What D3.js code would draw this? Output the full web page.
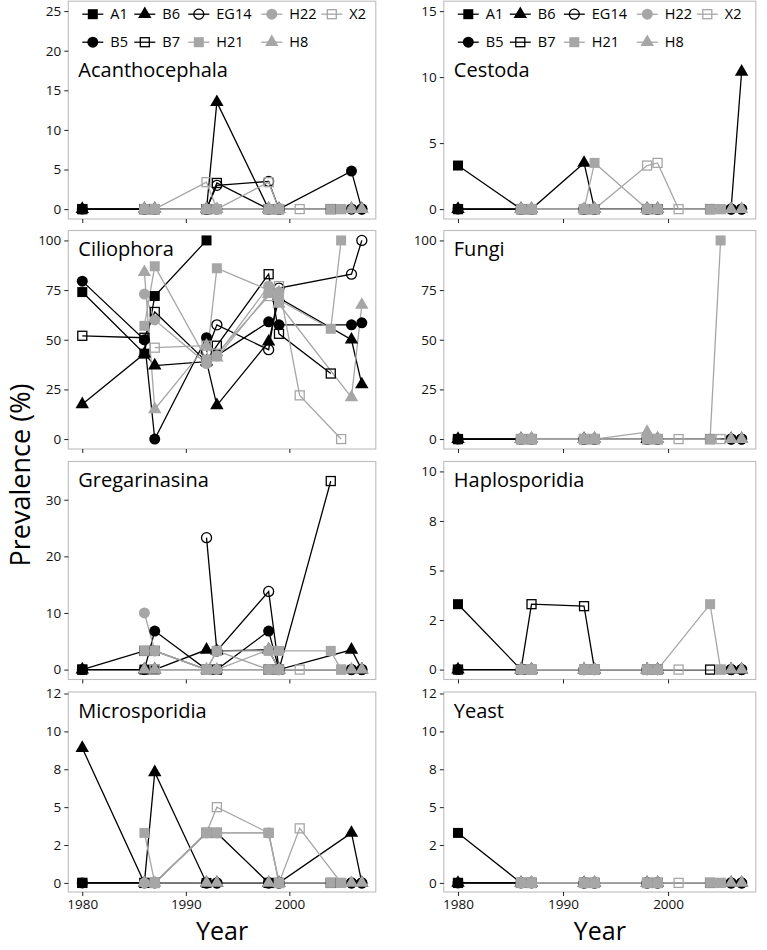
<!DOCTYPE html>
<html><head><meta charset="utf-8">
<script src="https://cdn.jsdelivr.net/npm/d3@7/dist/d3.min.js"></script>
<style>
body{margin:0;background:#fff;}
svg{display:block;font-family:"Open Sans",sans-serif;}
</style>
</head><body>
<svg id="chart" width="767" height="950"></svg>
<script>
// ---------- DATA ----------
const seriesNames = ["A1","B5","B6","B7","EG14","H21","H22","H8","X2"];
const blackSeries = ["A1","B5","B6","B7","EG14"];
const shapeOf = {A1:"sq",B5:"ci",B6:"tr",B7:"osq",EG14:"oci",H21:"sq",H22:"ci",H8:"tr",X2:"osq"};

const yearsA1   = [1980,1986,1987,1992];
const yearsB5   = [1980,1986,1987,1992,1993,1998,1999,2006,2007];
const yearsB6   = [1980,1986,1987,1992,1993,1998,1999,2006,2007];
const yearsB7   = [1980,1986,1987,1992,1993,1998,1999,2004];
const yearsEG14 = [1992,1993,1998,1999,2006,2007];
const yearsH21  = [1986,1987,1992,1993,1998,1999,2004,2005];
const yearsH22  = [1986,1987,1992,1993,1998,1999];
const yearsH8   = [1986,1987,1992,1993,1998,1999,2006,2007];
const yearsX2   = [1987,1992,1993,1998,1999,2001,2005];

const panelNames = ["Acanthocephala","Cestoda","Ciliophora","Fungi","Gregarinasina","Haplosporidia","Microsporidia","Yeast"];
const panelLimits = [25,15,100,100,35,10,12,12];
const panelTicks = [
  [0,5,10,15,20,25],[0,5,10,15],[0,25,50,75,100],[0,25,50,75,100],
  [0,10,20,30],[0,2.5,5,7.5,10],[0,2.5,5,7.5,10,12.5],[0,2.5,5,7.5,10,12.5]
];
const xTicks = [1980,1990,2000];

const acanthocephala = {
  A1:[0,0,0,0], B5:[0,0,0,0,0,0,0,4.8,0], B6:[0,0,0,0,13.5,0,0,0,0],
  B7:[0,0,0,0,3.3,0,0,0], EG14:[0,3.0,3.5,0,0,0], H21:[0,0,0,0,0,0,0,0],
  H22:[0,0,0,0,0,0], H8:[0,0,0,0,0,0,0,0], X2:[0,3.4,0,3.4,0,0,0]
};
const cestoda = {
  A1:[3.3,0,0,0], B5:[0,0,0,0,0,0,0,0,0], B6:[0,0,0,3.5,0,0,0,0,10.4],
  B7:[0,0,0,0,0,0,0,0], EG14:[0,0,0,0,0,0], H21:[0,0,0,3.5,0,0,0,0],
  H22:[0,0,0,0,0,0], H8:[0,0,0,0,0,0,0,0], X2:[0,0,0,3.3,3.5,0,0]
};
const ciliophora = {
  A1:[74,43,72,100], B5:[79.5,50,0,51,42,59,57.5,57.5,58.5],
  B6:[17.5,43,37,39,17,49,71,50,27.5], B7:[52,51,64,39,47,83,53,33],
  EG14:[44,57.5,45,76,83,100], H21:[57,87,40,86,75,70,55.5,100],
  H22:[73,60,38,42,77,74], H8:[84,15,47,41,73,68,21,67.5],
  X2:[46,47,43,72,77,22,0]
};
const fungi = {
  A1:[0,0,0,0], B5:[0,0,0,0,0,0,0,0,0], B6:[0,0,0,0,0,0,0,0,0],
  B7:[0,0,0,0,0,0,0,0], EG14:[0,0,0,0,0,0], H21:[0,0,0,0,0,0,0,100],
  H22:[0,0,0,0,0,0], H8:[0,0,0,0,3.5,0,0,0], X2:[0,0,0,0,0,0,0]
};
const gregarinasina = {
  A1:[0,0,0,0], B5:[0,0,6.8,0,0,6.8,0,0,0], B6:[0,0,0,3.5,3.3,3.5,0,3.5,0],
  B7:[0,3.3,3.3,0,0,0,0,33.3], EG14:[23.3,3.3,13.8,0,0,0],
  H21:[3.3,3.3,0,3.3,3.3,3.3,3.3,0], H22:[10,3.3,0,0,0,0],
  H8:[0,0,0,0,3.5,0,0,0], X2:[0,0,3.3,0,0,0,0]
};
const haplosporidia = {
  A1:[3.3,0,0,0], B5:[0,0,0,0,0,0,0,0,0], B6:[0,0,0,0,0,0,0,0,0],
  B7:[0,0,3.3,3.2,0,0,0,0], EG14:[0,0,0,0,0,0], H21:[0,0,0,0,0,0,3.3,0],
  H22:[0,0,0,0,0,0], H8:[0,0,0,0,0,0,0,0], X2:[0,0,0,0,0,0,0]
};
const microsporidia = {
  A1:[0,0,0,0], B5:[0,0,0,0,0,0,0,0,0], B6:[8.9,0,7.3,0,0,0,0,3.3,0],
  B7:[0,0,0,3.3,3.3,0,0,0], EG14:[0,0,0,0,0,0], H21:[3.3,0,3.3,3.3,3.3,0,0,0],
  H22:[0,0,3.3,3.3,3.3,0], H8:[0,0,0,0,0,0,0,0], X2:[0,3.3,5.0,3.3,0,3.6,0]
};
const yeast = {
  A1:[3.3,0,0,0], B5:[0,0,0,0,0,0,0,0,0], B6:[0,0,0,0,0,0,0,0,0],
  B7:[0,0,0,0,0,0,0,0], EG14:[0,0,0,0,0,0], H21:[0,0,0,0,0,0,0,0],
  H22:[0,0,0,0,0,0], H8:[0,0,0,0,0,0,0,0], X2:[0,0,0,0,0,0,0]
};

// ---------- LAYOUT ----------
const yearsOf = {A1:yearsA1,B5:yearsB5,B6:yearsB6,B7:yearsB7,EG14:yearsEG14,H21:yearsH21,H22:yearsH22,H8:yearsH8,X2:yearsX2};
const panelValues = [acanthocephala,cestoda,ciliophora,fungi,gregarinasina,haplosporidia,microsporidia,yeast];
const colX = [[68.3,375.8],[443.8,755.8]];
const rowY = [[1.2,219],[230.5,449],[461.5,679.5],[692,892]];
const BLACK="#000", GREY="#a6a6a6";
const legendCols = [14,66,120,193,253];

const svg = d3.select("#chart");
const x0 = 1980, x1 = 2007;
const xpad = (x1-x0)*0.05;

function rRound(d){ // R style round half even
  const f = Math.floor(d);
  if (Math.abs(d-f-0.5) < 1e-9) return (f%2===0)?f:f+1;
  return Math.round(d);
}

function drawMarker(g, shape, color, cx, cy){
  if (shape==="sq") g.append("rect").attr("x",cx-5).attr("y",cy-5).attr("width",10).attr("height",10).attr("fill",color);
  else if (shape==="osq") g.append("rect").attr("x",cx-4.5).attr("y",cy-4.5).attr("width",9).attr("height",9).attr("fill","none").attr("stroke",color).attr("stroke-width",1.3);
  else if (shape==="ci") g.append("circle").attr("cx",cx).attr("cy",cy).attr("r",5.5).attr("fill",color);
  else if (shape==="oci") g.append("circle").attr("cx",cx).attr("cy",cy).attr("r",5).attr("fill","none").attr("stroke",color).attr("stroke-width",1.3);
  else if (shape==="tr") g.append("path").attr("transform",`translate(${cx},${cy})`).attr("d",d3.symbol().type(d3.symbolTriangle).size(78)()).attr("fill",color);
}

panelNames.forEach((name,i)=>{
  const col = i%2, row = Math.floor(i/2);
  const [L,R] = colX[col], [T,B] = rowY[row];
  const lim = panelLimits[i];
  const x = d3.scaleLinear().domain([x0-xpad,x1+xpad]).range([L,R]);
  const y = d3.scaleLinear().domain([-0.05*lim,1.05*lim]).range([B,T]);
  const g = svg.append("g");

  g.append("rect").attr("x",L).attr("y",T).attr("width",R-L).attr("height",B-T)
    .attr("fill","#fff").attr("stroke","#bdbdbd").attr("stroke-width",1.1);

  // y axis
  const ya = g.append("g").attr("transform",`translate(${L},0)`)
    .call(d3.axisLeft(y).tickValues(panelTicks[i]).tickFormat(d=>String(rRound(d))).tickSize(4).tickPadding(3));
  ya.select(".domain").remove();
  ya.selectAll("line").attr("stroke","#222");
  ya.selectAll("text").attr("font-size",13.5).attr("fill","#111").attr("font-family","Open Sans");

  // x axis
  const xa = g.append("g").attr("transform",`translate(0,${B})`)
    .call(d3.axisBottom(x).tickValues(xTicks).tickSize(4).tickPadding(3).tickFormat(d=>String(d)));
  xa.select(".domain").remove();
  xa.selectAll("line").attr("stroke","#222");
  xa.selectAll("text").attr("font-size",13.5).attr("fill","#111").attr("font-family","Open Sans");
  if (row<3) xa.selectAll("text").remove();

  const vals = panelValues[i];
  const line = d3.line().x(d=>x(d[0])).y(d=>y(d[1]));
  // lines first
  seriesNames.forEach(s=>{
    const pts = yearsOf[s].map((yr,k)=>[yr,vals[s][k]]);
    g.append("path").attr("d",line(pts)).attr("fill","none")
      .attr("stroke",blackSeries.includes(s)?BLACK:GREY).attr("stroke-width",1.3);
  });
  // then points
  seriesNames.forEach(s=>{
    const c = blackSeries.includes(s)?BLACK:GREY;
    yearsOf[s].forEach((yr,k)=>drawMarker(g,shapeOf[s],c,x(yr),y(vals[s][k])));
  });

  // title
  const titleY = row===0 ? T+76 : T+25.5;
  g.append("text").attr("x",L+10).attr("y",titleY).attr("font-size",20).attr("fill","#000").text(name);

  // legend on top panels
  if (row===0){
    seriesNames.forEach((s,k)=>{
      const c = Math.floor(k/2), r = k%2;
      const kx = L+legendCols[c], ky = T + (r===0?13:41);
      const color = blackSeries.includes(s)?BLACK:GREY;
      g.append("line").attr("x1",kx).attr("x2",kx+21).attr("y1",ky).attr("y2",ky).attr("stroke",color).attr("stroke-width",1.3);
      drawMarker(g,shapeOf[s],color,kx+10.5,ky);
      g.append("text").attr("x",kx+28).attr("y",ky+5).attr("font-size",14.5).attr("fill","#000").text(s);
    });
  }
});

// axis titles
svg.append("text").attr("transform","translate(29.5,475) rotate(-90)").attr("text-anchor","middle")
  .attr("font-size",27).attr("fill","#000").text("Prevalence (%)");
svg.append("text").attr("x",(colX[0][0]+colX[0][1])/2).attr("y",940).attr("text-anchor","middle")
  .attr("font-size",25).attr("fill","#000").text("Year");
svg.append("text").attr("x",(colX[1][0]+colX[1][1])/2).attr("y",940).attr("text-anchor","middle")
  .attr("font-size",25).attr("fill","#000").text("Year");
</script>
</body></html>
